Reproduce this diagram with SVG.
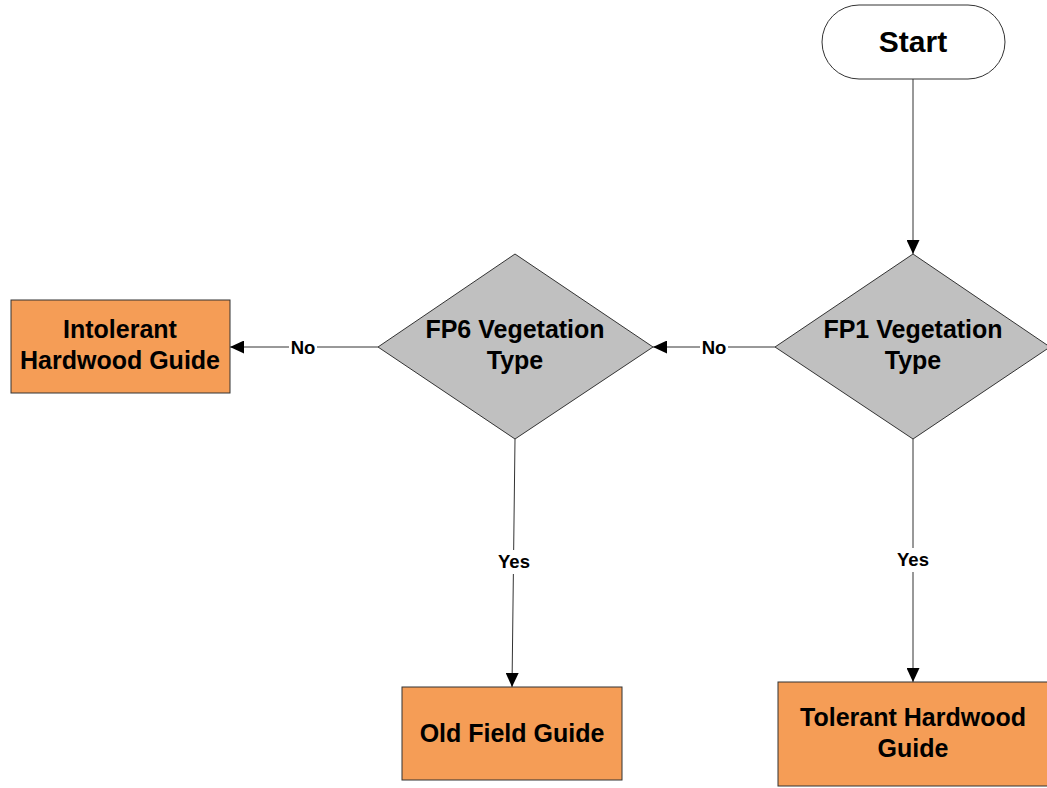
<svg xmlns="http://www.w3.org/2000/svg" width="1047" height="788" viewBox="0 0 1047 788">
<style>
.t{font-family:"Liberation Sans",Arial,sans-serif;font-weight:bold;fill:#000;text-anchor:middle}
.big{font-size:25px}
.lbl{font-size:18.5px}
.box{fill:#F59D56;stroke:#333;stroke-width:1}
.dia{fill:#C0C0C0;stroke:#333;stroke-width:1}
.con{stroke:#333;stroke-width:1;fill:none;marker-end:url(#ah)}
</style>
<defs>
<marker id="ah" viewBox="0 0 14 13" refX="14" refY="6.5" markerWidth="14" markerHeight="13" markerUnits="userSpaceOnUse" orient="auto">
<path d="M0,0 L14,6.5 L0,13 Z" fill="#000"/>
</marker>
</defs>
<rect width="1047" height="788" fill="#fff"/>
<g id="connectors">
<line class="con" x1="913" y1="79" x2="913" y2="254"/>
<line class="con" x1="775" y1="347" x2="653" y2="347"/>
<line class="con" x1="378" y1="347" x2="230" y2="347"/>
<line class="con" x1="515" y1="439" x2="512" y2="687"/>
<line class="con" x1="913" y1="439" x2="913" y2="682"/>
<rect x="700" y="336" width="28" height="22" fill="#fff"/>
<text class="t lbl" x="714" y="353.5">No</text>
<rect x="289" y="336" width="28" height="22" fill="#fff"/>
<text class="t lbl" x="303" y="353.5">No</text>
<rect x="495" y="550" width="38" height="24" fill="#fff"/>
<text class="t lbl" x="514" y="568">Yes</text>
<rect x="894" y="548" width="38" height="24" fill="#fff"/>
<text class="t lbl" x="913" y="566">Yes</text>
</g>
<g id="start">
<rect x="822" y="5" width="183" height="74" rx="37" ry="37" fill="#fff" stroke="#333" stroke-width="1"/>
<text class="t" style="font-size:30px" x="913" y="52">Start</text>
</g>
<g id="fp1">
<polygon class="dia" points="913,254 1050,347 913,439 775,347"/>
<text class="t big" x="913" y="338">FP1 Vegetation</text>
<text class="t big" x="913" y="369">Type</text>
</g>
<g id="fp6">
<polygon class="dia" points="515,254 653,347 515,439 378,347"/>
<text class="t big" x="515" y="338">FP6 Vegetation</text>
<text class="t big" x="515" y="369">Type</text>
</g>
<g id="intolerant">
<rect class="box" x="11" y="300" width="219" height="93"/>
<text class="t big" x="120" y="338">Intolerant</text>
<text class="t big" x="120" y="369">Hardwood Guide</text>
</g>
<g id="oldfield">
<rect class="box" x="402" y="687" width="220" height="93"/>
<text class="t big" x="512" y="742">Old Field Guide</text>
</g>
<g id="tolerant">
<rect class="box" x="778" y="682" width="272" height="104"/>
<text class="t big" x="913" y="726">Tolerant Hardwood</text>
<text class="t big" x="913" y="757">Guide</text>
</g>
</svg>
